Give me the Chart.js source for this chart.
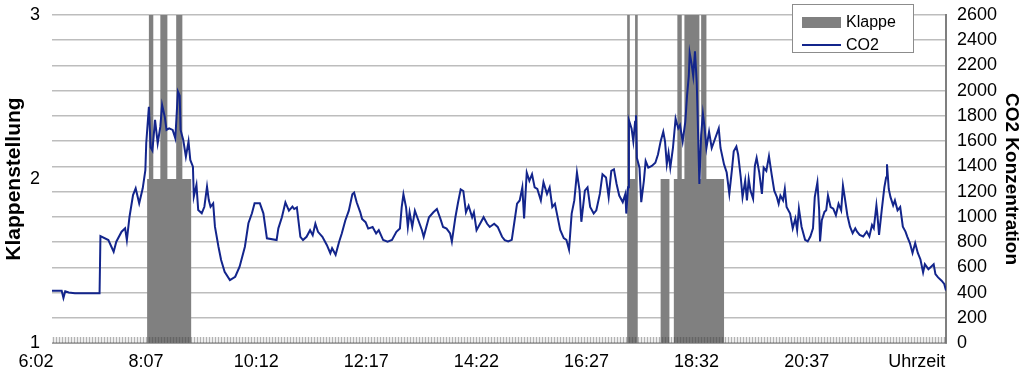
<!DOCTYPE html>
<html>
<head>
<meta charset="utf-8">
<script src="https://cdn.jsdelivr.net/npm/chart.js@4"></script>
<style>
  body { margin: 0; background: #fff; }
  #wrap { position: relative; width: 1024px; height: 383px; }
  #legend {
    position: absolute; left: 792px; top: 4px; width: 120px; height: 47px;
    border: 1px solid #8c8c8c; background: #fff;
    font: 16px "Liberation Sans", Arial, sans-serif; color: #000;
  }
  #legend .row { position: absolute; left: 9px; height: 22px; display: flex; align-items: center; }
  #legend .sw { width: 39px; margin-right: 5px; }
</style>
</head>
<body>
<div id="wrap">
  <canvas id="chart" width="1024" height="383"></canvas>
  <div id="legend"></div>
</div>
<script>
// x axis: minutes since 6:02
const xTickMinutes = [0, 125, 250, 375, 500, 625, 750, 875, 1000];
const xTickLabels = ["6:02", "8:07", "10:12", "12:17", "14:22", "16:27", "18:32", "20:37", "Uhrzeit"];

// Klappe position (left axis), value holds until the next change
const klappeTime = [0, 108, 110, 115, 123, 131, 141, 148, 158, 653, 656, 662, 665, 691, 701, 706, 710, 715, 718, 735, 737, 743, 763, 1015];
const klappeValue = [1, 2, 3, 2, 3, 2, 3, 2, 1, 3, 2, 3, 1, 2, 1, 2, 3, 2, 3, 2, 3, 2, 1, 1];

// CO2 concentration (right axis)
const co2Time = [
  0, 11, 13, 15, 19, 26, 54, 55, 64, 70, 73, 79, 83, 85, 88, 92, 95, 99, 103, 106, 107, 110, 112, 114, 117, 120,
  123, 125, 128, 130, 133, 137, 140, 143, 145, 146, 149, 152, 155, 157, 160, 161, 164, 166, 170, 173, 176, 178,
  180, 183, 185, 189, 192, 196, 202, 208, 213, 219, 223, 227, 230, 236, 240, 244, 255, 257,
  261, 265, 269, 273, 275, 278, 282, 285, 289, 293, 296, 299, 302, 307, 312, 316, 318, 322, 326, 329, 333, 337,
  341, 343, 346, 350, 352, 356, 359, 364, 368, 371, 376, 381, 386, 391, 395, 397, 399, 402, 404, 406, 409, 412,
  416, 420, 422, 425, 428, 433, 437, 441, 444, 448, 452, 454, 458, 461, 464, 467, 470, 473, 477, 479, 482, 486,
  490, 494, 497, 502, 506, 511, 514,
  518, 522, 525, 528, 531, 534, 536, 539, 542, 545, 548, 551, 555, 558, 562, 565, 568, 571, 574, 577, 581, 584,
  587, 590, 593, 596, 599, 601, 605, 608, 611, 615, 618, 622, 625, 629, 632, 635, 638, 641, 644, 648, 651, 652,
  654, 655, 658, 660, 662, 663, 664, 667, 669, 672, 674, 677, 681, 685, 688, 691, 694, 696, 698, 700, 702, 705,
  708, 711, 713, 716, 719, 721, 723, 724, 726, 728, 730, 732, 733, 735, 737, 739, 741, 743, 746, 749, 753, 757, 759,
  763, 766, 769, 772, 774, 777, 779, 782, 784, 787, 789, 791, 793, 796, 798, 800, 803, 806, 808, 811, 814, 817,
  820, 823, 825, 827, 830, 832, 834, 838, 841, 844, 846, 848, 851, 855, 858, 861, 864, 866, 869, 871, 872, 874,
  877, 879, 881, 884, 887, 890, 893, 896, 898, 900, 903, 906, 909, 912, 914, 917, 921, 925, 928, 931, 933, 936,
  937, 939, 942, 945, 947, 948, 950, 952, 955, 957, 960, 963, 966, 969, 971, 974, 977, 980, 983, 986, 989, 991,
  995, 999, 1001, 1003, 1006, 1010, 1013, 1015
];
const co2Value = [
  414, 414, 357, 410, 400, 394, 394, 848, 816, 724, 803, 882, 909, 816, 1001, 1173, 1226, 1107, 1226, 1371, 1583, 1873, 1550, 1525, 1768, 1583,
  1715, 1887, 1794, 1689, 1702, 1689, 1623, 1993, 1960, 1689, 1610, 1477, 1597, 1451, 1398, 1160, 1253, 1054, 1028, 1080, 1239, 1133,
  1080, 1107, 922, 763, 658, 565, 499, 525, 605, 763, 949, 1028, 1107, 1107, 1028, 830, 816, 909,
  997, 1114, 1049, 1081, 1062, 1075, 842, 816, 842, 894, 855, 945, 881, 842, 777, 712, 751, 699, 803, 868, 971, 1049,
  1179, 1192, 1114, 1036, 984, 958, 907, 920, 868, 894, 816, 803, 816, 881, 907, 1075, 1179, 1075, 920, 1036, 920, 1049,
  971, 894, 842, 920, 997, 1036, 1062, 984, 920, 907, 868, 803, 997, 1114, 1218, 1205, 1036, 1088, 997, 1036, 894, 945,
  997, 945, 920, 945, 920, 842, 816,
  805, 818, 961, 1104, 1130, 1234, 987, 1351, 1286, 1338, 1234, 1221, 1130, 1273, 1182, 1234, 1078, 1104, 1000, 896, 831, 818,
  740, 1026, 1130, 1351, 1208, 961, 1208, 1234, 1078, 1026, 1052, 1182, 1338, 1312, 1156, 1364, 1377, 1260, 1169, 1117, 1182, 1026,
  1234, 1766, 1701, 1598, 1753, 1805, 1468, 1390, 1117, 1286, 1442, 1390, 1403, 1429, 1494, 1598, 1675, 1598, 1416, 1507, 1390, 1546,
  1779, 1701, 1727, 1598, 1753, 1961, 2117, 2299, 2221, 2117, 2312, 2065, 1805, 1260, 1649, 1818, 1701, 1546, 1675, 1546, 1623, 1701, 1546,
  1416, 1351, 1182, 1377, 1520, 1558, 1494, 1312, 1156, 1286, 1130, 1299, 1208, 1143, 1403, 1468, 1351, 1182, 1390, 1364, 1481, 1338,
  1208, 1156, 1104, 1169, 1130, 1221, 1078, 1026, 909, 987, 896, 1065, 922, 818, 805, 844, 909, 1156, 1273, 1052, 805, 974,
  1039, 1052, 1169, 1078, 1065, 1013, 1104, 1052, 1247, 1156, 1013, 922, 870, 909, 883, 857, 844, 883, 844, 935, 909, 1091,
  1026, 857, 1052, 1234, 1312, 1416, 1221, 1156, 1091, 1130, 1052, 1078, 922, 883, 844, 792, 714, 792, 714, 662, 559, 624,
  585, 611, 624, 546, 520, 494, 468, 416
];

const FONT = "'Liberation Sans', Arial, sans-serif";

// dense category tick marks along the bottom edge of the plot
const bottomBand = {
  id: "bottomBand",
  afterDatasetsDraw(chart) {
    const { ctx, chartArea: a } = chart;
    ctx.save();
    ctx.fillStyle = "rgba(0,0,0,0.07)";
    ctx.fillRect(a.left, a.bottom - 6, a.right - a.left, 6);
    ctx.strokeStyle = "rgba(70,70,70,0.35)";
    ctx.lineWidth = 1;
    ctx.beginPath();
    for (let x = Math.round(a.left) + 1.5; x < a.right; x += 3) {
      ctx.moveTo(x, a.bottom - 6);
      ctx.lineTo(x, a.bottom);
    }
    ctx.stroke();
    ctx.restore();
  }
};

// fixed axis sizes so the plot area sits where the original one does
function fitVertical(width) {
  return s => {
    s.width = width;
    s.paddingTop = 0;
    s.paddingBottom = 0;
  };
}

const chart = new Chart(document.getElementById("chart"), {
  type: "line",
  data: {
    datasets: [
      {
        label: "CO2",
        data: co2Time.map((t, i) => ({ x: t, y: co2Value[i] })),
        yAxisID: "yCO2",
        borderColor: "#13258c",
        borderWidth: 2,
        pointRadius: 0,
        tension: 0,
        order: 0
      },
      {
        label: "Klappe",
        data: klappeTime.map((t, i) => ({ x: t, y: klappeValue[i] })),
        yAxisID: "yKlappe",
        stepped: true,
        fill: "start",
        backgroundColor: "#808080",
        borderColor: "rgba(0,0,0,0)",
        borderWidth: 0,
        pointRadius: 0,
        order: 1
      }
    ]
  },
  options: {
    responsive: false,
    animation: false,
    layout: { padding: { top: 15, bottom: 0, left: 0, right: 0 } },
    plugins: { legend: { display: false }, tooltip: { enabled: false } },
    scales: {
      x: {
        type: "linear",
        min: 0,
        max: 1015,
        grid: { display: false, drawTicks: false },
        border: { display: true, color: "#a0a0a0", width: 1 },
        afterBuildTicks: s => { s.ticks = xTickMinutes.map(v => ({ value: v })); },
        afterFit: s => { s.height = 40; },
        ticks: {
          autoSkip: false,
          maxRotation: 0,
          padding: 8,
          labelOffset: -16,
          color: "#000",
          font: { family: FONT, size: 18 },
          callback: (v, i) => xTickLabels[i]
        }
      },
      yKlappe: {
        position: "left",
        min: 1,
        max: 3,
        grid: { display: false, drawTicks: false },
        border: { display: false },
        afterFit: fitVertical(52),
        ticks: { stepSize: 1, padding: 12, color: "#000", font: { family: FONT, size: 18 } },
        title: { display: true, text: "Klappenstellung", color: "#000", padding: 2, font: { family: FONT, size: 21, weight: "bold" } }
      },
      yCO2: {
        position: "right",
        min: 0,
        max: 2600,
        grid: { color: "#bdbdbd", lineWidth: 1.5, drawTicks: false },
        border: { display: true, color: "#7f7f7f", width: 2 },
        afterFit: fitVertical(78),
        ticks: { stepSize: 200, padding: 11, color: "#000", font: { family: FONT, size: 18 }, callback: v => String(v) },
        title: { display: true, text: "CO2 Konzentration", color: "#000", padding: 1, font: { family: FONT, size: 19, weight: "bold" } }
      }
    }
  },
  plugins: [bottomBand]
});

// legend box inside the plot, built from the datasets
const legend = document.getElementById("legend");
["Klappe", "CO2"].forEach((name, k) => {
  const ds = chart.data.datasets.find(d => d.label === name);
  const row = document.createElement("div");
  row.className = "row";
  row.style.top = (k === 0 ? 6 : 29) + "px";
  const sw = document.createElement("span");
  sw.className = "sw";
  if (name === "Klappe") {
    sw.style.height = "11px";
    sw.style.background = ds.backgroundColor;
  } else {
    sw.style.height = "2px";
    sw.style.background = ds.borderColor;
  }
  const txt = document.createElement("span");
  txt.textContent = name;
  row.appendChild(sw);
  row.appendChild(txt);
  legend.appendChild(row);
});
</script>
</body>
</html>
